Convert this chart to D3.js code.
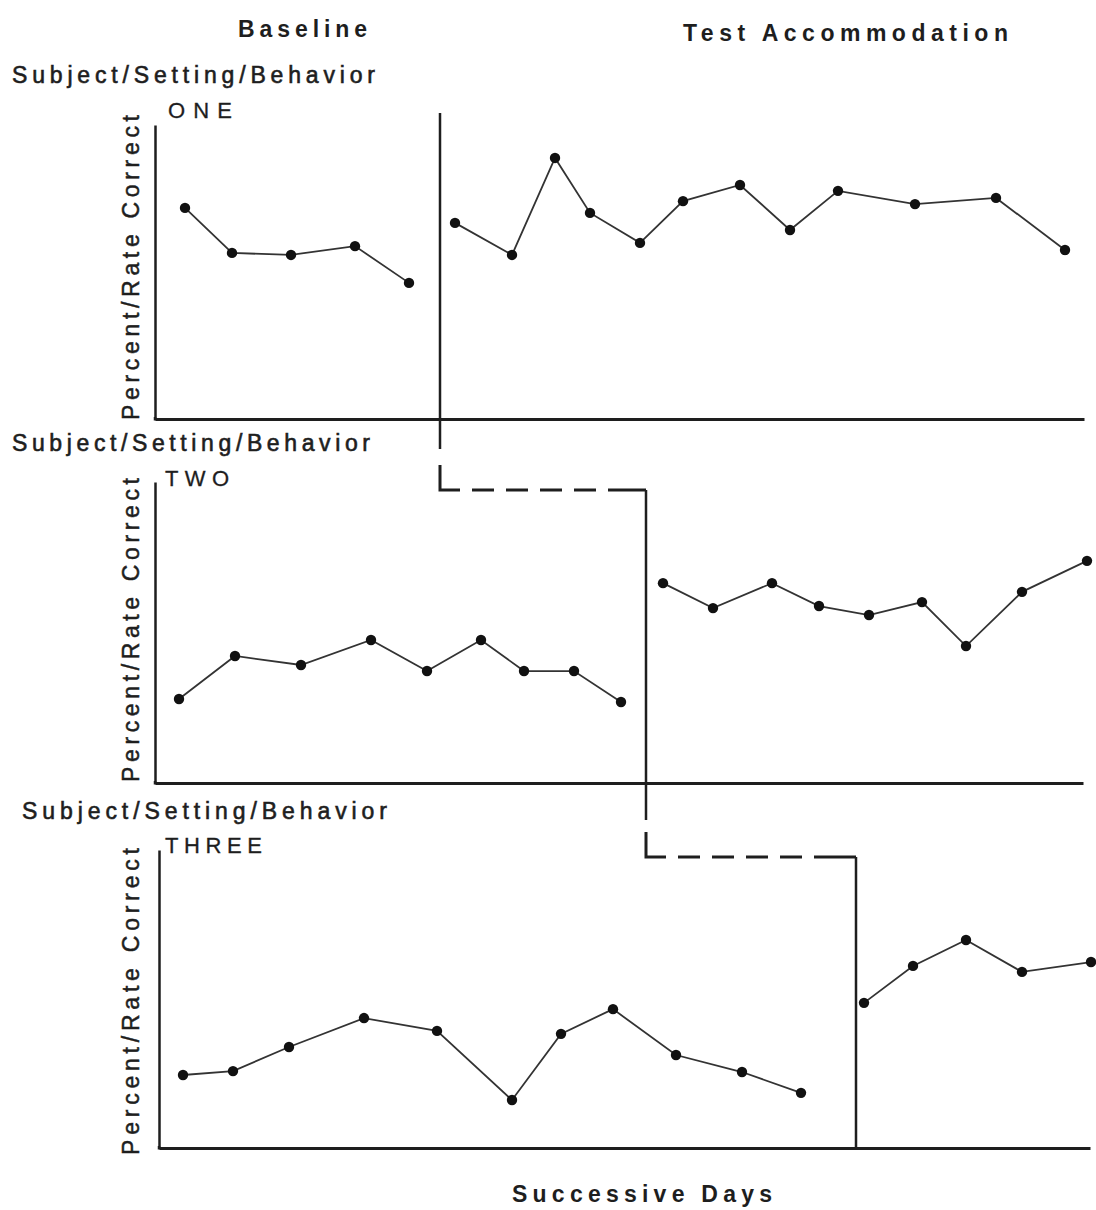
<!DOCTYPE html>
<html><head><meta charset="utf-8">
<script src="https://cdn.jsdelivr.net/npm/d3@7"></script>
<style>
html,body{margin:0;padding:0;background:#fff;}
svg{display:block;}
text{font-family:"Liberation Sans",Arial,sans-serif;fill:#1e1e1e;}
</style></head>
<body>
<svg id="chart" width="1096" height="1210"></svg>
<script>
// ---------------- DATA ----------------
const phaseTitles = ["Baseline", "Test Accommodation"];
const panelTitles = ["Subject/Setting/Behavior", "Subject/Setting/Behavior", "Subject/Setting/Behavior"];
const panelNames = ["ONE", "TWO", "THREE"];
const yAxisLabel = "Percent/Rate Correct";
const xAxisLabel = "Successive Days";

// phase-change points (in days)
const phaseChangeDays = [5.7, 9.82, 14.02];

// Panel ONE
const days1Base = [0.6, 1.54, 2.72, 4.0, 5.08];
const vals1Base = [71.8, 56.5, 55.8, 58.8, 46.3];
const days1Treat = [6.0, 7.14, 8.0, 8.7, 9.7, 10.56, 11.7, 12.7, 13.66, 15.2, 16.82, 18.2];
const vals1Treat = [66.7, 55.8, 88.8, 70.1, 59.9, 74.1, 79.6, 64.3, 77.6, 73.1, 75.2, 57.5];

// Panel TWO
const days2Base = [0.48, 1.6, 2.92, 4.32, 5.44, 6.52, 7.38, 8.38, 9.32];
const vals2Base = [27.9, 42.2, 39.2, 47.5, 37.2, 47.5, 37.2, 37.2, 26.9];
const days2Treat = [10.16, 11.16, 12.34, 13.28, 14.28, 15.34, 16.22, 17.34, 18.64];
const vals2Treat = [66.4, 58.1, 66.4, 58.8, 55.8, 60.1, 45.5, 63.5, 73.8];

// Panel THREE
const days3Base = [0.56, 1.56, 2.68, 4.18, 5.64, 7.14, 8.12, 9.16, 10.42, 11.74, 12.92];
const vals3Base = [24.5, 25.8, 33.9, 43.6, 39.3, 16.1, 38.3, 46.6, 31.2, 25.5, 18.5];
const days3Treat = [14.18, 15.16, 16.22, 17.34, 18.72];
const vals3Treat = [48.7, 61.1, 69.8, 59.1, 62.4];

// ---------------- LAYOUT ----------------
const svg = d3.select("#chart");
const ink = "#1e1e1e";
const x = d3.scaleLinear().domain([0, 18.6]).range([155, 1085]);

const geom = [
  {top: 125, bottom: 419, axisLeft: 155, axisRight: 1084, titleX: 12, titleW: 363, titleY: 83, nameX: 168, nameY: 118, nameW: 64, labelTop: 115, labelBot: 420},
  {top: 482, bottom: 783, axisLeft: 155, axisRight: 1083, titleX: 12, titleW: 358, titleY: 451, nameX: 165, nameY: 486, nameW: 64, labelTop: 478, labelBot: 782},
  {top: 850, bottom: 1148, axisLeft: 159, axisRight: 1090, titleX: 22, titleW: 365, titleY: 819, nameX: 165, nameY: 853, nameW: 97, labelTop: 848, labelBot: 1155}
];

const panelData = [
  [{d: days1Base, v: vals1Base}, {d: days1Treat, v: vals1Treat}],
  [{d: days2Base, v: vals2Base}, {d: days2Treat, v: vals2Treat}],
  [{d: days3Base, v: vals3Base}, {d: days3Treat, v: vals3Treat}]
];

// Phase titles
svg.append("text").attr("x", 238).attr("y", 37).attr("font-size", 23).attr("font-weight", "bold")
  .attr("textLength", 129).attr("lengthAdjust", "spacing").text(phaseTitles[0]);
svg.append("text").attr("x", 683).attr("y", 41).attr("font-size", 23).attr("font-weight", "bold")
  .attr("textLength", 325).attr("lengthAdjust", "spacing").text(phaseTitles[1]);

geom.forEach((g, i) => {
  const y = d3.scaleLinear().domain([0, 100]).range([g.bottom, g.top]);
  const xp = d3.scaleLinear().domain([x.invert(g.axisLeft), x.invert(g.axisRight)]).range([g.axisLeft, g.axisRight]);

  // axes
  const xAx = svg.append("g").attr("transform", `translate(0,${g.bottom})`)
    .call(d3.axisBottom(xp).ticks(0).tickSizeOuter(0));
  xAx.select(".domain").attr("stroke", ink).attr("stroke-width", 3);
  const yAx = svg.append("g").attr("transform", `translate(${g.axisLeft},0)`)
    .call(d3.axisLeft(y).ticks(0).tickSizeOuter(0));
  yAx.select(".domain").attr("stroke", ink).attr("stroke-width", 2.5);
  svg.append("line").attr("x1", g.axisLeft).attr("x2", g.axisLeft).attr("y1", g.bottom - 2).attr("y2", g.bottom + 1.5)
    .attr("stroke", ink).attr("stroke-width", 2.5);

  // titles
  svg.append("text").attr("x", g.titleX).attr("y", g.titleY).attr("font-size", 23)
    .attr("stroke", ink).attr("stroke-width", 0.6)
    .attr("textLength", g.titleW).attr("lengthAdjust", "spacing").text(panelTitles[i]);
  svg.append("text").attr("x", g.nameX).attr("y", g.nameY).attr("font-size", 22)
    .attr("stroke", ink).attr("stroke-width", 0.3)
    .attr("textLength", g.nameW).attr("lengthAdjust", "spacing").text(panelNames[i]);

  // y axis label
  const cy = (g.labelTop + g.labelBot) / 2;
  svg.append("text").attr("transform", `translate(139,${cy}) rotate(-90)`)
    .attr("font-size", 23).attr("stroke", ink).attr("stroke-width", 0.5)
    .attr("textLength", g.labelBot - g.labelTop).attr("lengthAdjust", "spacing")
    .attr("x", -(g.labelBot - g.labelTop) / 2)
    .text(yAxisLabel);

  // series
  const line = d3.line().x(p => x(p[0])).y(p => y(p[1]));
  panelData[i].forEach(s => {
    const pts = s.d.map((d, k) => [d, s.v[k]]);
    svg.append("path").datum(pts).attr("d", line).attr("fill", "none")
      .attr("stroke", "#333").attr("stroke-width", 1.8);
    svg.selectAll(null).data(pts).enter().append("circle")
      .attr("cx", p => x(p[0])).attr("cy", p => y(p[1])).attr("r", 5.2).attr("fill", "#111");
  });
});

// Phase change lines
const px = phaseChangeDays.map(d => x(d));
const pline = (x1, y1, x2, y2) => svg.append("line").attr("x1", x1).attr("y1", y1).attr("x2", x2).attr("y2", y2)
  .attr("stroke", ink).attr("stroke-width", 2.5);
pline(px[0], 113, px[0], geom[0].bottom + 30);
svg.append("path").attr("d", `M${px[0]},${geom[0].bottom + 46}V${geom[1].top + 8}H${px[1]}`)
  .attr("fill", "none").attr("stroke", ink).attr("stroke-width", 3)
  .attr("stroke-dasharray", "45,12,22,12,22,12,22,12,22,12,60");
pline(px[1], geom[1].top + 8, px[1], geom[1].bottom + 37);
svg.append("path").attr("d", `M${px[1]},${geom[1].bottom + 49}V${geom[2].top + 7}H${px[2]}`)
  .attr("fill", "none").attr("stroke", ink).attr("stroke-width", 3)
  .attr("stroke-dasharray", "45,12,22,12,22,12,22,12,22,12,60");
pline(px[2], geom[2].top + 7, px[2], geom[2].bottom);

// x axis label
svg.append("text").attr("x", 512).attr("y", 1202).attr("font-size", 23).attr("font-weight", "bold")
  .attr("textLength", 260).attr("lengthAdjust", "spacing").text(xAxisLabel);
</script>
</body></html>
